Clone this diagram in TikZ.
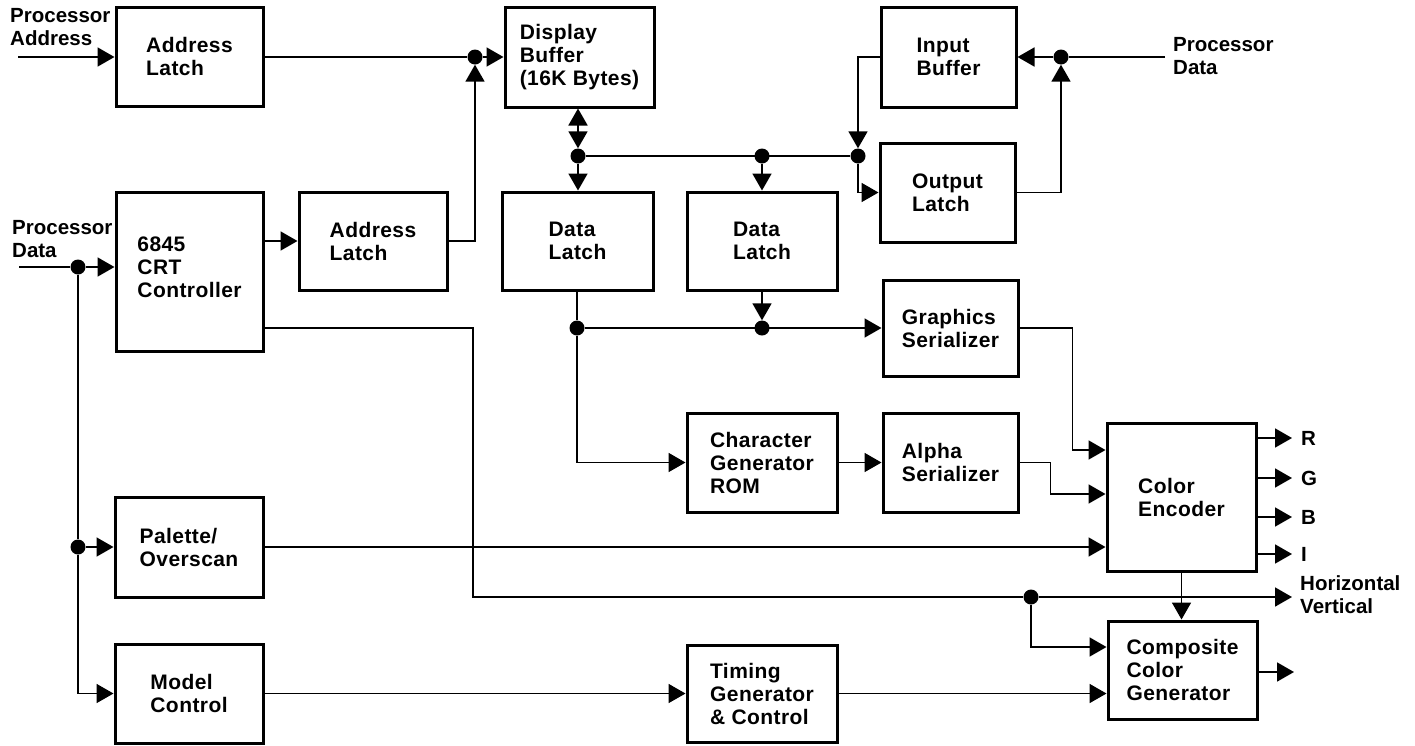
\documentclass[tikz,border=0pt]{standalone}
\usepackage{fontspec}
\setmainfont[LetterSpace=2]{Liberation Sans}
\newfontfamily\lblfont{Liberation Sans}
\usetikzlibrary{arrows.meta}
\begin{document}
\begin{tikzpicture}[x=1pt,y=-1pt,
  blk/.style={draw, line width=3pt, inner sep=0pt, align=left, font=\fontsize{21}{23}\selectfont\bfseries},
  lbl/.style={inner sep=0pt, align=left, font=\lblfont\fontsize{20.5}{23}\selectfont\bfseries},
  ln/.style={line width=1.8pt},
  arr/.style={line width=1.8pt, -{Triangle[length=17pt,width=19pt]}},
  arrboth/.style={line width=1.8pt, {Triangle[length=17pt,width=19pt]}-{Triangle[length=17pt,width=19pt]}},
  dot/.style={circle, fill, inner sep=0pt, minimum size=15pt}]
\useasboundingbox (0,0) rectangle (1415,745);

% boxes
\node[blk, minimum width=147pt, minimum height=99pt] (al1) at (189.5,56.5) {Address\\Latch};
\node[blk, minimum width=147pt, minimum height=159pt] (crt) at (189.5,271.5) {6845\\CRT\\Controller\\[-15pt]};
\node[blk, minimum width=148pt, minimum height=98pt] (al2) at (373,241) {Address\\Latch};
\node[blk, minimum width=149pt, minimum height=100pt] (db) at (579.5,57) {Display\\Buffer\\(16K Bytes)};
\node[blk, minimum width=151pt, minimum height=98pt] (dl1) at (577.5,241) {Data\\Latch};
\node[blk, minimum width=150pt, minimum height=98pt] (dl2) at (762,241) {Data\\Latch};
\node[blk, minimum width=135pt, minimum height=100pt] (ib) at (948.5,57) {Input\\Buffer};
\node[blk, minimum width=135pt, minimum height=99pt] (ol) at (947.5,192.5) {Output\\Latch};
\node[blk, minimum width=135pt, minimum height=96pt] (gs) at (950.5,328) {Graphics\\Serializer};
\node[blk, minimum width=150pt, minimum height=99pt] (cg) at (762,462.5) {Character\\Generator\\ROM};
\node[blk, minimum width=135pt, minimum height=99pt] (as) at (950.5,462.5) {Alpha\\Serializer};
\node[blk, minimum width=149pt, minimum height=148pt] (ce) at (1181.5,497) {Color\\Encoder};
\node[blk, minimum width=149pt, minimum height=98pt] (cc) at (1182.5,670) {Composite\\Color\\Generator};
\node[blk, minimum width=148pt, minimum height=100pt] (po) at (189,547) {Palette/\\Overscan};
\node[blk, minimum width=148pt, minimum height=99pt] (mc) at (189,693.5) {Model\\Control};
\node[blk, minimum width=150pt, minimum height=97pt] (tg) at (762,693.5) {Timing\\Generator\\\& Control};

% labels
\node[lbl, anchor=west] (pa) at (10,27) {Processor\\Address};
\node[lbl, anchor=west] (pdl) at (12,239) {Processor\\Data};
\node[lbl, anchor=west] (pdr) at (1173,56) {Processor\\Data};
\node[lbl, anchor=west] (lR) at (1301,438) {R};
\node[lbl, anchor=west] (lG) at (1301,478) {G};
\node[lbl, anchor=west] (lB) at (1301,517) {B};
\node[lbl, anchor=west] (lI) at (1301,554) {I};
\node[lbl, anchor=west] (hv) at (1300,595) {Horizontal\\Vertical};

% junction dots
\node[dot] (j1) at (475,57) {};
\node[dot] (j2) at (1061,57) {};
\node[dot] (b1) at (578,156) {};
\node[dot] (b2) at (762,156) {};
\node[dot] (b3) at (858,156) {};
\node[dot] (e1) at (577,328) {};
\node[dot] (e2) at (762,328) {};
\node[dot] (d1) at (78,267) {};
\node[dot] (d2) at (78,547) {};
\node[dot] (d3) at (1031,597) {};

% free ends
\coordinate (ipa) at (18,57);
\coordinate (ipd) at (19,267);
\coordinate (ipr) at (1165,57);
\coordinate (oR) at (1292,438);
\coordinate (oG) at (1292,478);
\coordinate (oB) at (1292,517);
\coordinate (oI) at (1292,554);
\coordinate (ohv) at (1292,597);
\coordinate (occ) at (1294,672);
\coordinate (t1) at (473,328);
\coordinate (t2) at (473,597);

% connectors
\draw[arr] (ipa) -- (ipa -| al1.west);
\draw[ln] (al1.east |- j1) -- (j1);
\draw[arr] (j1) -- (j1 -| db.west);
\draw[arr] (al2.east) -| (j1.south);

\draw[arrboth] (b1 |- db.south) -- (b1.north);
\draw[arr] (b1) -- (b1 |- dl1.north);
\draw[ln] (b1) -- (b3);
\draw[arr] (b2) -- (dl2.north);
\draw[arr] (ib.west) -| (b3.north);
\draw[arr] (b3) |- (ol.west);
\draw[arr] (ol.east) -| (j2.south);
\draw[ln] (ipr) -- (j2);
\draw[arr] (j2) -- (ib.east);

\draw[ln] (ipd) -- (d1);
\draw[arr] (d1) -- (d1 -| crt.west);
\draw[ln] (d1) -- (d2);
\draw[arr] (d2) -- (d2 -| po.west);
\draw[arr] (d2) |- (mc.west);
\draw[arr] (crt.east |- al2.west) -- (al2.west);

\draw[ln] (e1 |- dl1.south) -- (e1);
\draw[arr] (e1) |- (cg.west);
\draw[arr] (e1) -- (e1 -| gs.west);
\draw[arr] (dl2.south) -- (e2.north);
\draw[arr] (cg.east) -- (as.west);
\draw[arr] (gs.east) -| ([xshift=-33pt,yshift=47pt]ce.west) -- ([yshift=47pt]ce.west);
\draw[arr] (as.east) -| ([xshift=-55pt,yshift=3pt]ce.west) -- ([yshift=3pt]ce.west);
\draw[arr] (po.east) -- (po.east -| ce.west);

\draw[arr] (ce.east |- oR) -- (oR);
\draw[arr] (ce.east |- oG) -- (oG);
\draw[arr] (ce.east |- oB) -- (oB);
\draw[arr] (ce.east |- oI) -- (oI);

\draw[ln] (crt.east |- t1) -- (t1) -- (t2) -- (d3);
\draw[arr] (d3) -- (ohv);
\draw[arr] (d3) |- ([yshift=23pt]cc.west);
\draw[arr] (ce.south) -- (ce.south |- cc.north);
\draw[arr] (cc.east |- occ) -- (occ);

\draw[arr] (mc.east) -- (tg.west);
\draw[arr] (tg.east) -- (tg.east -| cc.west);
\end{tikzpicture}
\end{document}
